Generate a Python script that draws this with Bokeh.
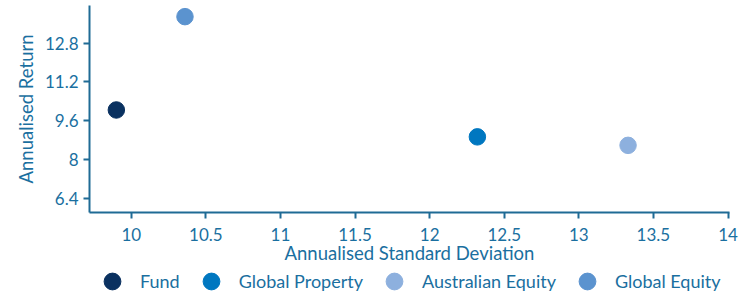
from bokeh.plotting import figure
from bokeh.layouts import column
from bokeh.models import ColumnDataSource, Range1d, FixedTicker, Legend, LegendItem
from bokeh.embed import file_html
from bokeh.resources import INLINE

names = ["Fund", "Global Property", "Australian Equity", "Global Equity"]
std_dev = [9.90, 12.32, 13.33, 10.36]
returns = [10.04, 8.93, 8.58, 13.89]
colors = ["#0a3160", "#0077c0", "#8db0de", "#5b93cf"]
x_ticks = [10, 10.5, 11, 11.5, 12, 12.5, 13, 13.5, 14]
y_ticks = [6.4, 8, 9.6, 11.2, 12.8]

AXIS = "#1f6b95"
TEXT = "#1a6fa0"
FONT = "Lato"

p = figure(width=743, height=270,
           x_range=Range1d(9.72, 14.01), y_range=Range1d(5.81, 14.35),
           output_backend="svg", toolbar_location=None,
           min_border_left=89, min_border_right=14,
           min_border_top=5, min_border_bottom=58)
p.outline_line_color = None
p.grid.visible = False

for xv, yv, c in zip(std_dev, returns, colors):
    src = ColumnDataSource(dict(x=[xv], y=[yv]))
    p.scatter("x", "y", source=src, size=16.5, fill_color=c, line_color=c)

for ax in (p.xaxis[0], p.yaxis[0]):
    ax.axis_line_color = AXIS
    ax.axis_line_width = 2
    ax.major_tick_line_color = AXIS
    ax.major_tick_line_width = 2
    ax.major_tick_out = 6
    ax.major_tick_in = 0
    ax.minor_tick_line_color = None
    ax.major_label_text_color = TEXT
    ax.major_label_text_font = FONT
    ax.major_label_text_font_size = "17px"
    ax.axis_label_text_color = TEXT
    ax.axis_label_text_font = FONT
    ax.axis_label_text_font_size = "18.5px"
    ax.axis_label_text_font_style = "normal"

p.xaxis.ticker = FixedTicker(ticks=x_ticks)
p.yaxis.ticker = FixedTicker(ticks=y_ticks)
p.xaxis.axis_label = "Annualised Standard Deviation"
p.yaxis.axis_label = "Annualised Return"
p.xaxis.major_label_standoff = 9
p.xaxis.axis_label_standoff = -2
p.yaxis.major_label_standoff = 5
p.yaxis.axis_label_standoff = 5

# legend strip below the chart (its frame is aligned with the chart's frame)
lf = figure(width=743, height=25, x_range=Range1d(0, 1), y_range=Range1d(0, 1),
            output_backend="svg", toolbar_location=None,
            x_axis_location=None, y_axis_location=None,
            min_border_left=0, min_border_right=0,
            min_border_top=0, min_border_bottom=0)
lf.outline_line_color = None
lf.grid.visible = False

items = []
for n, xv, yv, c in zip(names, std_dev, returns, colors):
    src = ColumnDataSource(dict(x=[xv], y=[yv]))
    r = lf.scatter("x", "y", source=src, size=16.5, fill_color=c, line_color=c)
    items.append(LegendItem(label=n, renderers=[r]))

legend = Legend(items=items, orientation="horizontal", location=(2, -7),
                glyph_width=42, glyph_height=42, label_standoff=7, spacing=10,
                padding=0, margin=0, border_line_color=None,
                background_fill_alpha=0,
                label_text_font=FONT, label_text_font_size="18px",
                label_text_color=TEXT)
lf.add_layout(legend, "center")

open("out.html", "w").write(file_html(column(p, lf, spacing=0), INLINE))
